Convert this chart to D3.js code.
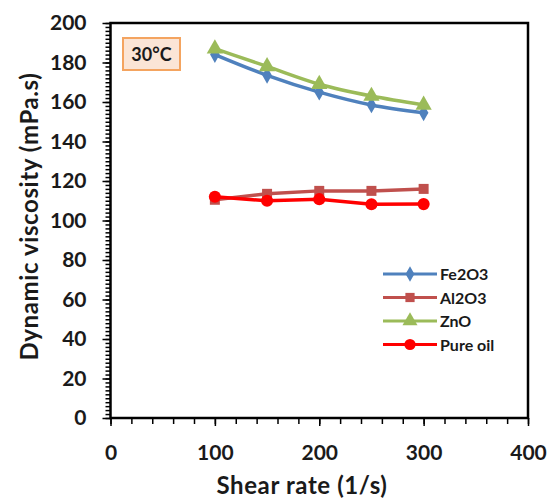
<!DOCTYPE html>
<meta charset="utf-8">
<style>
  html, body { margin: 0; background: #fff; }
  text { font-family: Lato, "Open Sans", sans-serif; font-weight: bold; fill: #1a1a1a; }
  .frame { fill: none; stroke: #000; stroke-width: 2.5; }
  .tick line { stroke: #000; stroke-width: 1.5; }
</style>
<body></body>
<script src="https://d3js.org/d3.v7.min.js"></script>
<script>
// data
var shearRate = [100, 150, 200, 250, 300];
var fe2o3 = [184, 173.5, 165, 158.5, 154.5];
var al2o3 = [110.5, 113.5, 115, 115, 116];
var zno = [187, 178, 169, 163, 158.5];
var pureOil = [112, 110, 110.8, 108.2, 108.3];

var xTicks = [0, 100, 200, 300, 400];
var yTicks = [0, 20, 40, 60, 80, 100, 120, 140, 160, 180, 200];

var seriesNames = ["Fe2O3", "Al2O3", "ZnO", "Pure oil"];
var seriesValues = [fe2o3, al2o3, zno, pureOil];
var colors = ["#4f81bd", "#c0504d", "#9bbb59", "#ff0000"];
var symbols = [d3.symbolDiamond, d3.symbolSquare, d3.symbolTriangle, d3.symbolCircle];
var symSize = [80, 100, 115, 115];
var smooth = [true, false, true, false];

var W = 552, H = 498;
var plotL = 110.5, plotR = 528, plotT = 23, plotB = 418;

var svg = d3.select("body").append("svg")
    .attr("width", W).attr("height", H);

var x = d3.scaleLinear().domain([0, 400]).range([plotL, plotR]);
var y = d3.scaleLinear().domain([0, 200]).range([plotB, plotT]);

// minor ticks
svg.append("g")
    .attr("class", "tick")
    .attr("transform", "translate(0," + plotB + ")")
    .call(d3.axisBottom(x).tickValues(d3.range(0, 401, 20)).tickSize(6).tickFormat(""))
    .call(g => g.select(".domain").remove());
svg.append("g")
    .attr("class", "tick")
    .attr("transform", "translate(" + plotL + ",0)")
    .call(d3.axisLeft(y).tickValues(d3.range(0, 201, 2)).tickSize(5).tickFormat(""))
    .call(g => g.select(".domain").remove());

// major ticks + labels
var xAxis = svg.append("g")
    .attr("transform", "translate(0," + plotB + ")")
    .call(d3.axisBottom(x).tickValues(xTicks).tickSize(8).tickPadding(19));
xAxis.select(".domain").remove();
xAxis.selectAll("line").attr("stroke", "#000").attr("stroke-width", 1.5);
xAxis.selectAll("text").style("font-size", "21px").attr("fill", "#1a1a1a");

var yAxis = svg.append("g")
    .attr("transform", "translate(" + plotL + ",0)")
    .call(d3.axisLeft(y).tickValues(yTicks).tickSize(8).tickPadding(16));
yAxis.select(".domain").remove();
yAxis.selectAll("line").attr("stroke", "#000").attr("stroke-width", 1.5);
yAxis.selectAll("text").style("font-size", "21px").attr("fill", "#1a1a1a");

// plot frame
svg.append("rect").attr("class", "frame")
    .attr("x", plotL).attr("y", plotT)
    .attr("width", plotR - plotL).attr("height", plotB - plotT);

// axis titles
svg.append("text")
    .attr("x", 302).attr("y", 494)
    .attr("text-anchor", "middle")
    .style("font-size", "24px")
    .style("letter-spacing", "0.6px")
    .text("Shear rate (1/s)");
svg.append("text")
    .attr("transform", "translate(38," + (y(100) - 4) + ") rotate(-90)")
    .attr("text-anchor", "middle")
    .style("font-size", "24px")
    .style("letter-spacing", "0.6px")
    .text("Dynamic viscosity (mPa.s)");

// series
seriesValues.forEach(function(vals, i) {
  var pts = shearRate.map((s, j) => [s, vals[j]]);
  var line = d3.line()
      .x(d => x(d[0])).y(d => y(d[1]))
      .curve(smooth[i] ? d3.curveMonotoneX : d3.curveLinear);
  svg.append("path").datum(pts)
      .attr("fill", "none").attr("stroke", colors[i]).attr("stroke-width", 3.5)
      .attr("d", line);
  svg.append("g").selectAll("path").data(pts).enter().append("path")
      .attr("transform", d => "translate(" + x(d[0]) + "," + y(d[1]) + ")")
      .attr("d", d3.symbol().type(symbols[i]).size(symSize[i]))
      .attr("fill", colors[i]);
});

// temperature label
var lab = svg.append("g");
lab.append("rect")
    .attr("x", 123).attr("y", 38).attr("width", 57).attr("height", 32)
    .attr("fill", "#fbe5d6").attr("stroke", "#f4a460").attr("stroke-width", 2);
lab.append("text")
    .attr("x", 151.5).attr("y", 61).attr("text-anchor", "middle")
    .style("font-size", "18px")
    .text("30°C");

// legend
var lg = svg.append("g");
seriesNames.forEach(function(name, i) {
  var ly = 274 + i * 23.5;
  lg.append("line").attr("x1", 383).attr("x2", 437).attr("y1", ly).attr("y2", ly)
      .attr("stroke", colors[i]).attr("stroke-width", 3);
  lg.append("path")
      .attr("transform", "translate(410," + ly + ")")
      .attr("d", d3.symbol().type(symbols[i]).size(symSize[i] * 0.85))
      .attr("fill", colors[i]);
  lg.append("text").attr("x", 440).attr("y", ly + 6)
      .style("font-size", "16px")
      .text(name);
});
</script>
